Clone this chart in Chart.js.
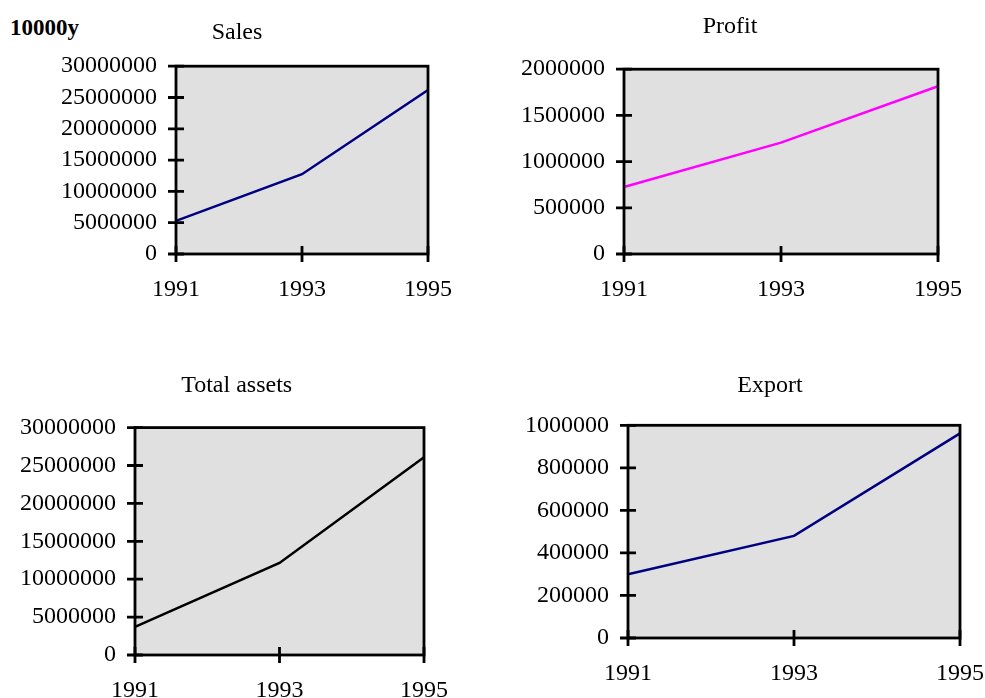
<!DOCTYPE html>
<html>
<head>
<meta charset="utf-8">
<script src="https://cdn.jsdelivr.net/npm/chart.js@4/dist/chart.umd.min.js"></script>
<style>
  html, body { margin: 0; padding: 0; background: #ffffff; overflow: hidden; }
  body { width: 985px; height: 698px; position: relative; }
  canvas { position: absolute; }
  #unit { position: absolute; left: 10px; top: 15px; font: bold 23px "Liberation Serif", "Times New Roman", serif; color: #000; }
</style>
</head>
<body>
<div id="unit">10000y</div>
<canvas id="cSales"></canvas>
<canvas id="cProfit"></canvas>
<canvas id="cAssets"></canvas>
<canvas id="cExport"></canvas>
<script>
// Years shown on every panel
const years = ['1991', '1993', '1995'];

// Series values (10000 yen)
const sales = [5300000, 12750000, 26200000];
const profit = [725000, 1205000, 1815000];
const totalAssets = [3700000, 12150000, 26100000];
const exportValues = [300000, 480000, 962000];

// Value-axis ranges and tick steps
const salesAxis = [0, 30000000, 5000000];
const profitAxis = [0, 2000000, 500000];
const assetsAxis = [0, 30000000, 5000000];
const exportAxis = [0, 1000000, 200000];

const FONT = '"Liberation Serif", "Times New Roman", serif';
const FONT_SIZE = 24;

// Grey plot background, black frame and cross-shaped tick marks
const framePlugin = {
  id: 'frame',
  beforeDatasetsDraw(chart) {
    const a = chart.chartArea, ctx = chart.ctx;
    ctx.save();
    ctx.fillStyle = '#e0e0e0';
    ctx.fillRect(a.left, a.top, a.right - a.left, a.bottom - a.top);
    ctx.restore();
  },
  afterDatasetsDraw(chart) {
    const a = chart.chartArea, ctx = chart.ctx;
    const xs = chart.scales.x, ys = chart.scales.y;
    const t = 8;
    ctx.save();
    ctx.strokeStyle = '#000';
    ctx.lineWidth = 2.8;
    ctx.strokeRect(a.left, a.top, a.right - a.left, a.bottom - a.top);
    ctx.beginPath();
    ys.ticks.forEach(tk => {
      const y = ys.getPixelForValue(tk.value);
      ctx.moveTo(a.left - t, y);
      ctx.lineTo(a.left + t, y);
    });
    xs.ticks.forEach((tk, i) => {
      const x = xs.getPixelForTick(i);
      ctx.moveTo(x, a.bottom - t);
      ctx.lineTo(x, a.bottom + t);
    });
    ctx.stroke();
    ctx.restore();
  }
};

// box: canvas left/top/width/height
// titleRight: layout padding on the right (sets where the title is centred)
// plotRight: room kept to the right of the plot for the last year label
// titlePad: space above/below the title; yWidth: room for value labels
function panel(id, box, titleRight, plotRight, title, titlePad, yWidth, values, color, axis) {
  const cv = document.getElementById(id);
  cv.style.left = box[0] + 'px';
  cv.style.top = box[1] + 'px';
  cv.width = box[2];
  cv.height = box[3];
  cv.style.width = box[2] + 'px';
  cv.style.height = box[3] + 'px';
  return new Chart(cv, {
    type: 'line',
    data: {
      labels: years,
      datasets: [{
        data: values,
        borderColor: color,
        borderWidth: 2.5,
        pointRadius: 0,
        tension: 0,
        fill: false
      }]
    },
    options: {
      responsive: false,
      animation: false,
      events: [],
      layout: { padding: { left: 0, right: titleRight, top: 0, bottom: 0 } },
      plugins: {
        legend: { display: false },
        tooltip: { enabled: false },
        title: {
          display: true,
          text: title,
          color: '#000',
          font: { family: FONT, size: FONT_SIZE, weight: 'normal', lineHeight: 1.2 },
          padding: { top: titlePad[0], bottom: titlePad[1] }
        }
      },
      scales: {
        x: {
          offset: false,
          grid: { display: false, drawTicks: false },
          border: { display: false },
          ticks: { color: '#000', padding: 21.5, maxRotation: 0, autoSkip: false,
                   font: { family: FONT, size: FONT_SIZE, lineHeight: 1.2 } },
          afterFit(s) { s.height = 50; s.paddingLeft = 0; s.paddingRight = plotRight; }
        },
        y: {
          min: axis[0],
          max: axis[1],
          grid: { display: false, drawTicks: false },
          border: { display: false },
          ticks: {
            stepSize: axis[2],
            autoSkip: false,
            color: '#000',
            padding: 19,
            font: { family: FONT, size: FONT_SIZE, lineHeight: 1.2 },
            callback: v => String(v)
          },
          afterFit(s) { s.width = yWidth; s.paddingTop = 0; s.paddingBottom = 0; }
        }
      }
    },
    plugins: [framePlugin]
  });
}

panel('cSales',  [46, 0, 414, 304],    32,  32, 'Sales',        [18.1, 19.3], 130, sales,        '#000080', salesAxis);
panel('cProfit', [518, 0, 457, 304],   33,  37, 'Profit',       [12.6, 27.8], 106, profit,       '#ff00ff', profitAxis);
panel('cAssets', [18, 360, 442, 345],  4.6, 36, 'Total assets', [11.6, 27.2], 117, totalAssets,  '#000000', assetsAxis);
panel('cExport', [520, 360, 505, 328], 5,   65, 'Export',       [11.6, 24.9], 108, exportValues, '#000080', exportAxis);
</script>
</body>
</html>
